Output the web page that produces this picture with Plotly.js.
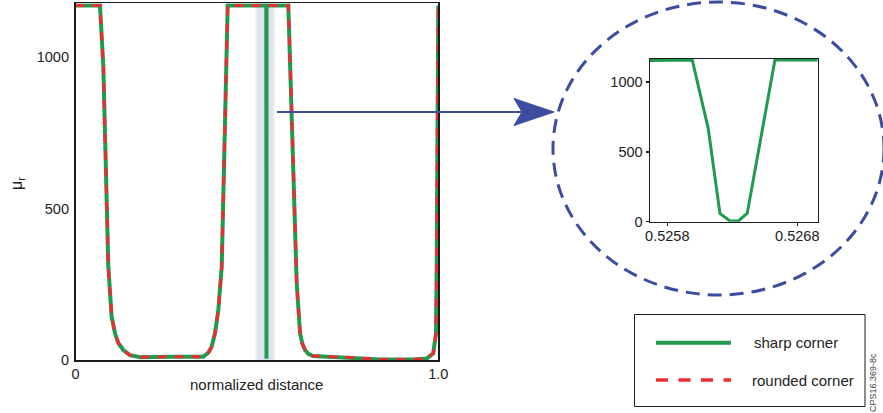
<!DOCTYPE html>
<html>
<head>
<meta charset="utf-8">
<script src="https://cdn.plot.ly/plotly-3.0.1.min.js"></script>
<style>
  html, body { margin: 0; padding: 0; background: #ffffff; }
  #chart { width: 883px; height: 413px; }
</style>
</head>
<body>
<div id="chart"></div>
<script>
// Relative permeability along the normalized path, full length
const distance = [0, 0.0675, 0.0767, 0.0813, 0.086, 0.0905, 0.0997, 0.1089, 0.118, 0.1318, 0.150, 0.178,
  0.260, 0.352, 0.366, 0.375, 0.3845, 0.3936, 0.403, 0.4075, 0.412, 0.4168, 0.4195,
  0.5259, 0.5262, 0.5263, 0.5264, 0.5265, 0.5266,
  0.5866, 0.596, 0.600, 0.605, 0.6097, 0.619, 0.625, 0.6326, 0.6417, 0.655, 0.7475, 0.839, 0.931, 0.968,
  0.986, 0.9937, 0.9956, 0.9973, 0.998, 1.0];
const muSharp = [1170, 1170, 968, 749, 528, 308, 143, 89, 57, 34, 17, 10,
  12, 12, 25, 44, 89, 166, 308, 528, 749, 968, 1170,
  1170, 60, 5, 5, 60, 1170,
  1170, 825, 638, 419, 254, 89, 56, 34, 21, 14, 10, 3, 3, 6,
  23, 89, 309, 749, 1170, 1170];
const muRounded = [1170, 1170, 968, 749, 528, 308, 143, 89, 57, 34, 17, 10,
  12, 12, 25, 44, 89, 166, 308, 528, 749, 968, 1170,
  1170, 1170, 1170, 1170, 1170, 1170,
  1170, 825, 638, 419, 254, 89, 56, 34, 21, 14, 10, 3, 3, 6,
  23, 89, 309, 749, 1170, 1170];

// Close-up of the sharp-corner dip
const insetDistance = [0.525667, 0.525992, 0.526115, 0.526205, 0.526282, 0.526346, 0.526415, 0.526628, 0.526957];
const insetMu = [1155, 1158, 667, 60, 5, 5, 60, 1158, 1158];

const seriesNames = ['sharp corner', 'rounded corner'];
const mainXTicks = [0, 1];
const mainXTickText = ['0', '1.0'];
const mainYTicks = [0, 500, 1000];
const insetXTicks = [0.5258, 0.5268];
const insetYTicks = [0, 500, 1000];

const W = 883, H = 413;
const GREEN = '#1f9a4e';
const RED = '#ee2b2f';
const BLUE = '#3a4d9f';
const FONT = 'Liberation Sans, Arial, sans-serif';
const INK = '#222222';
const px = v => v / W;
const py = v => 1 - v / H;

const traces = [
  { x: distance, y: muSharp, name: seriesNames[0], type: 'scatter', mode: 'lines',
    xaxis: 'x', yaxis: 'y', line: { color: GREEN, width: 4 } },
  { x: distance, y: muRounded, name: seriesNames[1], type: 'scatter', mode: 'lines',
    xaxis: 'x', yaxis: 'y', line: { color: RED, width: 3, dash: '9px,8px' } },
  { x: insetDistance, y: insetMu, name: seriesNames[0], type: 'scatter', mode: 'lines',
    xaxis: 'x2', yaxis: 'y2', line: { color: GREEN, width: 3 }, showlegend: false }
];

const tickFont = { family: FONT, size: 14.5, color: INK };
const labelFont = { family: FONT, size: 15, color: INK };

const layout = {
  width: W, height: H,
  margin: { l: 0, r: 0, t: 0, b: 0 },
  paper_bgcolor: '#ffffff', plot_bgcolor: 'rgba(0,0,0,0)',
  showlegend: false,
  font: { family: FONT, size: 15, color: INK },
  xaxis: {
    domain: [px(75.5), px(438.3)], range: [0, 1], anchor: 'y',
    tickvals: mainXTicks, ticktext: mainXTickText, ticks: '',
    showgrid: false, zeroline: false, automargin: false,
    showline: true, mirror: true, linecolor: '#1a1a1a', linewidth: 1.6,
    tickfont: tickFont
  },
  yaxis: {
    domain: [py(360.3), py(3.3)], range: [0, 1177], anchor: 'x',
    tickvals: mainYTicks, ticks: '', ticklabelstandoff: 2,
    showgrid: false, zeroline: false, automargin: false,
    showline: true, mirror: true, linecolor: '#1a1a1a', linewidth: 1.6,
    tickfont: tickFont
  },
  xaxis2: {
    domain: [px(650), px(817.7)], range: [0.525667, 0.526957], anchor: 'y2',
    tickvals: insetXTicks, ticktext: ['0.5258', '0.5268'],
    ticks: 'outside', ticklen: 3, tickwidth: 1.5, tickcolor: '#1a1a1a', ticklabelstandoff: -3,
    showgrid: false, zeroline: false, automargin: false,
    showline: true, mirror: true, linecolor: '#1a1a1a', linewidth: 1.5,
    tickfont: tickFont
  },
  yaxis2: {
    domain: [py(221.7), py(59)], range: [0, 1165], anchor: 'x2',
    tickvals: insetYTicks, ticks: 'outside', ticklen: 3, tickwidth: 1.5, tickcolor: '#1a1a1a',
    showgrid: false, zeroline: false, automargin: false,
    showline: true, mirror: true, linecolor: '#1a1a1a', linewidth: 1.5,
    tickfont: tickFont
  },
  shapes: [
    // highlighted corner region behind the dip
    { type: 'rect', xref: 'x', yref: 'y', x0: 0.4960, x1: 0.5495, y0: 0, y1: 1177,
      fillcolor: '#e8f2ea', line: { width: 0 }, layer: 'below' },
    { type: 'rect', xref: 'x', yref: 'y', x0: 0.5000, x1: 0.5440, y0: 0, y1: 1177,
      fillcolor: '#dfe3f1', line: { width: 0 }, layer: 'below' },
    // pointer from the dip to the close-up
    { type: 'line', xref: 'paper', yref: 'paper', x0: px(277), x1: px(524), y0: py(112), y1: py(112),
      line: { color: BLUE, width: 2 } },
    { type: 'path', xref: 'paper', yref: 'paper',
      path: `M ${px(514)} ${py(98.5)} L ${px(554)} ${py(112)} L ${px(514)} ${py(125.5)} L ${px(522)} ${py(112)} Z`,
      fillcolor: BLUE, line: { color: BLUE, width: 1 } },
    // dashed magnifier outline
    { type: 'circle', xref: 'paper', yref: 'paper', x0: px(553), x1: px(884), y0: py(295), y1: py(2),
      line: { color: BLUE, width: 3, dash: '14px,8px' } },
    // legend box
    { type: 'rect', xref: 'paper', yref: 'paper', x0: px(634.5), x1: px(865), y0: py(406.5), y1: py(314.5),
      line: { color: '#1a1a1a', width: 1 }, fillcolor: 'rgba(0,0,0,0)' },
    { type: 'line', xref: 'paper', yref: 'paper', x0: px(656), x1: px(731), y0: py(342.7), y1: py(342.7),
      line: { color: GREEN, width: 4 } },
    { type: 'line', xref: 'paper', yref: 'paper', x0: px(656), x1: px(731), y0: py(380), y1: py(380),
      line: { color: RED, width: 3.5, dash: '12px,10.5px' } }
  ],
  annotations: [
    // axis titles
    { xref: 'paper', yref: 'paper', x: px(256.5), y: py(384), xanchor: 'center', yanchor: 'middle',
      text: 'normalized distance', showarrow: false, font: labelFont },
    { xref: 'paper', yref: 'paper', x: px(17), y: py(184), xanchor: 'center', yanchor: 'middle',
      text: 'μ<sub>r</sub>', textangle: -90, showarrow: false, font: { family: FONT, size: 16, color: INK } },
    // legend entries
    { xref: 'paper', yref: 'paper', x: px(752), y: py(342), xanchor: 'left', yanchor: 'middle',
      text: seriesNames[0], showarrow: false, font: labelFont },
    { xref: 'paper', yref: 'paper', x: px(750), y: py(380), xanchor: 'left', yanchor: 'middle',
      text: seriesNames[1], showarrow: false, font: labelFont },
    { xref: 'paper', yref: 'paper', x: px(873), y: py(383), xanchor: 'center', yanchor: 'middle',
      text: 'CPS16.369-8c', textangle: -90, showarrow: false,
      font: { family: FONT, size: 9, color: '#444' } }
  ]
};

Plotly.newPlot('chart', traces, layout, { staticPlot: true, displayModeBar: false });
</script>
</body>
</html>
